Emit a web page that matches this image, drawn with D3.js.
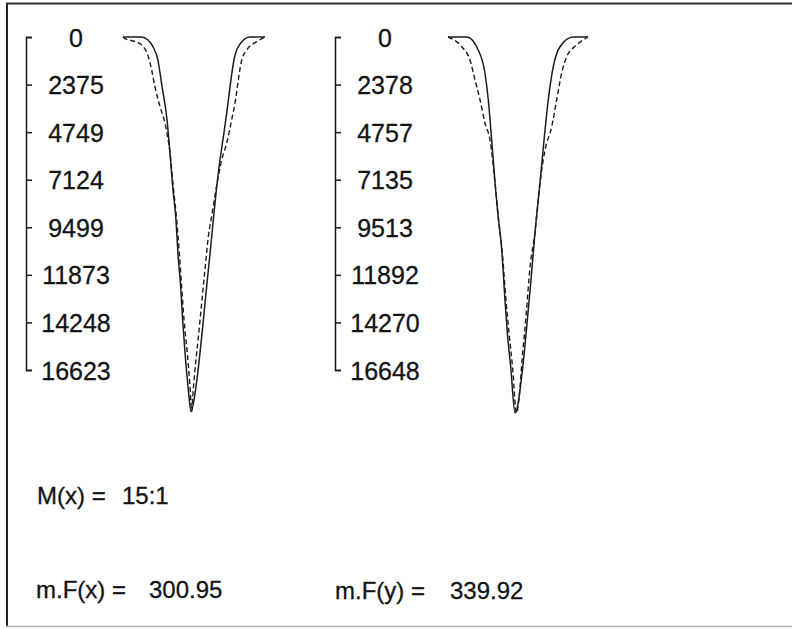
<!DOCTYPE html>
<html>
<head>
<meta charset="utf-8">
<script src="https://cdn.jsdelivr.net/npm/d3@7"></script>
<style>
  body { margin: 0; background: #fff; }
  text { font-family: "Liberation Sans", Arial, sans-serif; fill: #141414; stroke: #141414; stroke-width: 0.3px; }
</style>
</head>
<body>
<script>
// tick labels of the two vertical axes
const leftTicks  = [0, 2375, 4749, 7124, 9499, 11873, 14248, 16623];
const rightTicks = [0, 2378, 4757, 7135, 9513, 11892, 14270, 16648];

// profiles as [position, value] pairs
const leftSolid = [[0,0],[13,0],[17.6,150],[21.1,480],[24.6,1150],[27.5,2480],[31,4140],[33.1,5800],
  [35,7470],[37.3,9135],[38.7,10800],[40.6,12465],[42,14130],[43.7,15790],[45.8,17455],[47.9,18700],
  [51.4,17455],[54.2,15790],[56.6,14127],[58.9,12463],[61.3,10799],[63.6,9135],[66,7471],[68.3,6140],
  [70.7,4975],[73,3810],[75.4,2479],[77.7,1314],[81.2,483],[89.4,0],[100,0]];
const leftDashed = [[0,0],[1.4,80],[7.3,200],[13.2,400],[17.8,980],[20.2,1650],[22.5,2480],[26.1,3480],
  [29.6,4310],[33.1,5800],[35.4,7470],[37.8,9135],[39.7,10800],[41.3,12465],[43,14130],[45.3,15790],
  [47.2,17455],[48.4,18700],[49.1,17954],[50.7,16622],[53.1,14959],[55.4,13295],[57.7,11631],[60.1,9967],
  [62.8,8800],[65.5,7600],[69.5,6140],[73,5308],[76.5,4143],[79.6,2978],[81.2,2146],[83.6,1148],
  [87.1,649],[94.1,233],[100,0]];
const rightSolid = [[0,0],[13.4,0],[21.6,650],[26.4,1800],[28.8,3150],[31.2,5150],[33.6,7300],[35.9,9000],
  [38.4,10650],[40.7,13150],[42.4,14800],[44.8,16500],[47.9,18800],[53.4,16500],[56.2,14500],[59.1,12300],
  [62.1,9800],[65.7,7300],[68.6,5150],[71.6,3150],[75.2,1480],[80,485],[89.5,0],[100,0]];
const rightDashed = [[0,0],[9.8,485],[15.7,1150],[19.3,2150],[22.9,3150],[26.4,4300],[30,5150],[33.6,7300],
  [35.9,9000],[38.6,10650],[41.4,13150],[43.6,14800],[46.1,16500],[48.9,18800],[51.1,17800],[52.9,16150],
  [55.7,14000],[58.6,11500],[62.1,9800],[65.7,7300],[69.3,5650],[74.1,4480],[77.6,3150],[81.2,1800],
  [84.8,985],[91.9,400],[100,0]];

// result lines at the bottom
const statLabels = ["M(x) =", "m.F(x) =", "m.F(y) ="];
const statValues = ["15:1", "300.95", "339.92"];

const W = 792, H = 629;
const svg = d3.select("body").append("svg")
  .attr("width", W).attr("height", H);

// window frame
svg.append("line").attr("x1", 6).attr("x2", W).attr("y1", 3.5).attr("y2", 3.5)
  .attr("stroke", "#333").attr("stroke-width", 2);
svg.append("line").attr("x1", 7).attr("x2", 7).attr("y1", 3).attr("y2", 627)
  .attr("stroke", "#222").attr("stroke-width", 2);
svg.append("line").attr("x1", 6).attr("x2", W).attr("y1", 626.5).attr("y2", 626.5)
  .attr("stroke", "#b5b5b5").attr("stroke-width", 1.5);

const panels = [
  {ticks: leftTicks, solid: leftSolid, dashed: leftDashed, axisX: 26, x0: 123, x1: 265},
  {ticks: rightTicks, solid: rightSolid, dashed: rightDashed, axisX: 335, x0: 448, x1: 588}
];

panels.forEach(p => {
  const y = d3.scaleLinear()
    .domain([0, p.ticks[p.ticks.length - 1]])
    .range([37, 370]);
  const x = d3.scaleLinear().domain([0, 100]).range([p.x0, p.x1]);

  const axis = svg.append("g")
    .attr("transform", "translate(" + p.axisX + ",0)")
    .call(d3.axisRight(y).tickValues(p.ticks).tickSize(6).tickSizeOuter(6).tickFormat(d => d));
  axis.selectAll("path, line").attr("stroke", "#1a1a1a").attr("stroke-width", 1.5);
  axis.selectAll("text")
    .attr("x", 50).attr("dy", "0.36em")
    .attr("text-anchor", "middle")
    .attr("fill", "#141414")
    .style("font-family", "'Liberation Sans', Arial, sans-serif")
    .style("font-size", "25px");

  const line = d3.line()
    .x(d => x(d[0]))
    .y(d => y(d[1]))
    .curve(d3.curveMonotoneX);

  svg.append("path").datum(p.solid)
    .attr("d", line)
    .attr("fill", "none").attr("stroke", "#1c1c1c").attr("stroke-width", 1.5);
  svg.append("path").datum(p.dashed)
    .attr("d", line)
    .attr("fill", "none").attr("stroke", "#1c1c1c").attr("stroke-width", 1.4)
    .attr("stroke-dasharray", "5,3");
});

// bottom results
const statPos = [
  {lx: 37, vx: 122, y: 504},
  {lx: 36, vx: 149, y: 598},
  {lx: 335, vx: 450, y: 599}
];
statLabels.forEach((s, i) => {
  svg.append("text").attr("x", statPos[i].lx).attr("y", statPos[i].y)
    .style("font-size", "24px").text(s);
  svg.append("text").attr("x", statPos[i].vx).attr("y", statPos[i].y)
    .style("font-size", "24px").text(statValues[i]);
});
</script>
</body>
</html>
